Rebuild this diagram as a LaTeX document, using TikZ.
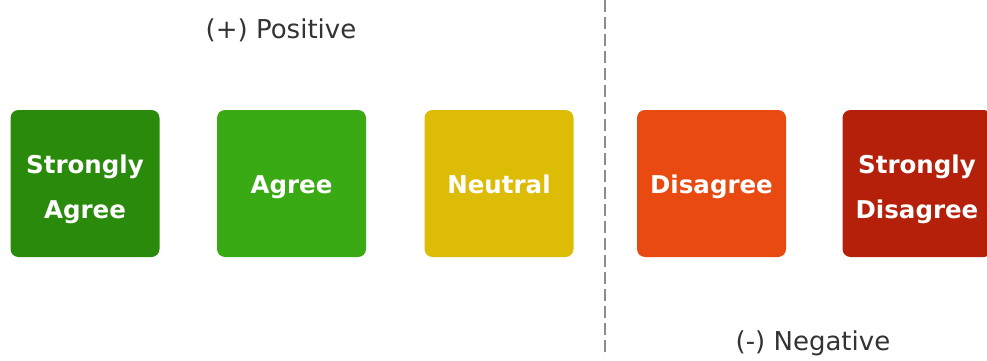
\documentclass[tikz,border=0pt]{standalone}
\usepackage{fontspec}
\setmainfont{DejaVu Sans}
\definecolor{sagree}{HTML}{2A8A0C}
\definecolor{agree}{HTML}{3AAA14}
\definecolor{neutral}{HTML}{DDBC05}
\definecolor{disagree}{HTML}{E94A12}
\definecolor{sdisagree}{HTML}{B5200A}
\definecolor{labelgray}{HTML}{333333}
\begin{document}
\begin{tikzpicture}[x=1pt,y=-1pt,
  choice/.style={rounded corners=8pt, minimum width=149pt, minimum height=147pt,
    inner sep=0pt, text=white, align=center, text height=24pt, text depth=5pt,
    font=\fontsize{24.5}{45}\selectfont\bfseries},
  twoline/.style={text height=74pt},
  sidelabel/.style={text=labelgray, font=\fontsize{26}{30}\selectfont, inner sep=0pt},
  divider/.style={draw=gray!90, line width=2pt, dash pattern=on 12pt off 5pt}]
\useasboundingbox (0,0) rectangle (987,361);
\node[choice, twoline, fill=sagree] (sa) at (85,183.5) {Strongly\\Agree};
\node[choice, fill=agree] (a) at (291.5,183.5) {Agree};
\node[choice, fill=neutral] (n) at (499,183.5) {Neutral};
\node[choice, fill=disagree] (d) at (711.5,183.5) {Disagree};
\node[choice, twoline, fill=sdisagree] (sd) at (917,183.5) {Strongly\\Disagree};
\node[sidelabel] (pos) at (281,30) {(+) Positive};
\node[sidelabel] (neg) at (813,343) {(-) Negative};
\coordinate (top) at (605,0);
\coordinate (bot) at (605,357);
\draw[divider] (top) -- (bot);
\end{tikzpicture}
\end{document}
